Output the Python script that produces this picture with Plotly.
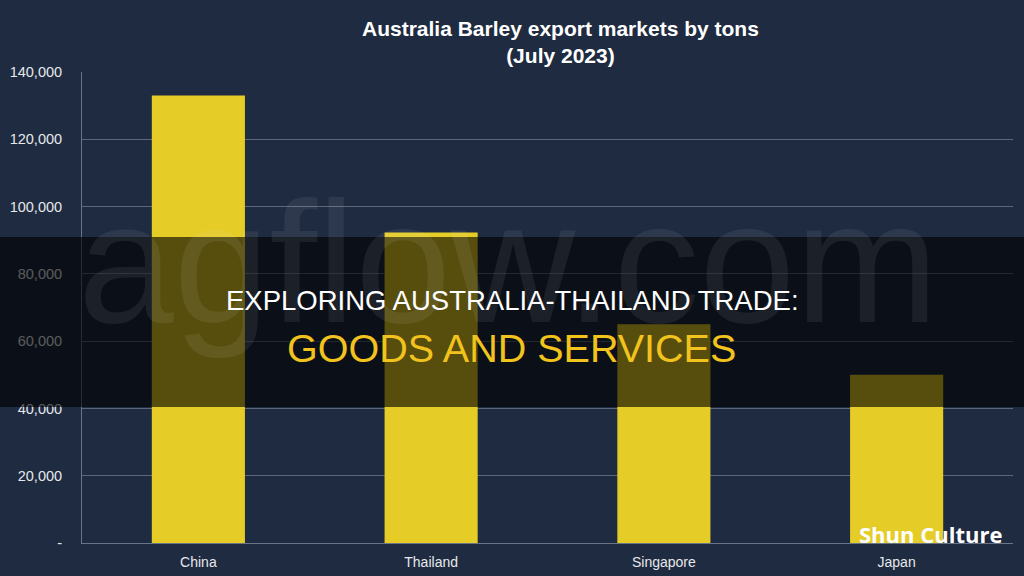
import plotly.graph_objects as go

categories = ["China", "Thailand", "Singapore", "Japan"]
tons = [133000, 92300, 65000, 50000]
tick_vals = [0, 20000, 40000, 60000, 80000, 100000, 120000, 140000]
tick_text = ["-", "20,000", "40,000", "60,000", "80,000", "100,000", "120,000", "140,000"]

BG = "#1f2b40"
YEL = "#e5cc27"
W, H = 1024, 576
L, R, T, B = 82, 11, 72, 33
PW, PH = W - L - R, H - T - B

def px(x):
    return (x - L) / PW

def py(y):
    return (H - B - y) / PH

fig = go.Figure(go.Bar(x=categories, y=tons, marker=dict(color=YEL, line=dict(width=0)), width=0.4))

fig.update_layout(
    width=W, height=H,
    margin=dict(l=L, r=R, t=T, b=B, autoexpand=False),
    paper_bgcolor=BG, plot_bgcolor=BG,
    showlegend=False,
    font=dict(family="Liberation Sans, Arial, sans-serif", color="#e6e8ec", size=14),
    xaxis=dict(showline=True, linecolor="#6b7588", linewidth=1, ticks="", showgrid=False,
               automargin=False, ticklabelstandoff=6, tickfont=dict(size=14, color="#e6e8ec")),
    yaxis=dict(range=[0, 140000], tickvals=tick_vals, ticktext=tick_text, showgrid=True,
               gridcolor="#5d6779", gridwidth=1, showline=True, linecolor="#6b7588", linewidth=1,
               zeroline=False, ticks="", ticklen=0, ticklabelstandoff=16, automargin=False,
               tickfont=dict(size=14.5, color="#e6e8ec")),
)

# Title
fig.add_annotation(xref="paper", yref="paper", x=px(560), y=py(42), xanchor="center", yanchor="middle",
                   text="<b>Australia Barley export markets by tons<br>(July 2023)</b>", showarrow=False,
                   font=dict(size=21, color="#ffffff", family="Liberation Sans, Arial, sans-serif"))

# Watermark
fig.add_annotation(xref="paper", yref="paper", x=px(508), y=py(262), xanchor="center", yanchor="middle",
                   text="agflow.com", showarrow=False,
                   font=dict(size=172, color="rgba(255,255,255,0.07)", family="Liberation Sans, Arial, sans-serif"))

# Dark overlay band
fig.add_shape(type="rect", xref="paper", yref="paper", x0=px(0), x1=px(W), y0=py(407), y1=py(237),
              fillcolor="rgba(0,0,0,0.62)", line=dict(width=0), layer="above")

fig.add_annotation(xref="paper", yref="paper", x=px(512), y=py(300), xanchor="center", yanchor="middle",
                   text="EXPLORING AUSTRALIA-THAILAND TRADE:", showarrow=False,
                   font=dict(size=27.5, color="#ffffff", family="Liberation Sans, Arial, sans-serif"))
fig.add_annotation(xref="paper", yref="paper", x=px(511), y=py(348), xanchor="center", yanchor="middle",
                   text="GOODS AND SERVICES", showarrow=False,
                   font=dict(size=39.5, color="#f2c31c", family="Liberation Sans, Arial, sans-serif"))

# Brand
fig.add_annotation(xref="paper", yref="paper", x=px(1004), y=py(534), xanchor="right", yanchor="middle",
                   text="<b>Shun Culture</b>", showarrow=False,
                   font=dict(size=22, color="#ffffff", family="Open Sans, Lato, sans-serif"))

fig.write_html("out.html")
